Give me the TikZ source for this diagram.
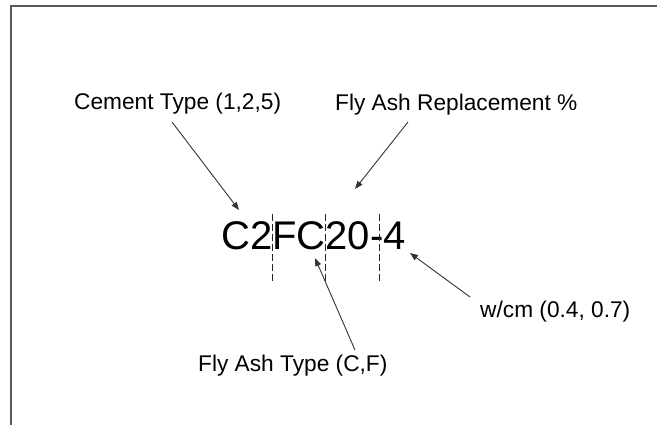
\documentclass[tikz,border=0pt]{standalone}
\usepackage{fontspec}
\setmainfont{Liberation Sans}
\usetikzlibrary{arrows.meta}
\tikzset{
  lbl/.style={inner sep=0pt, anchor=base west, font=\fontsize{22.7}{26}\selectfont},
  big/.style={inner sep=0pt, anchor=base west, font=\fontsize{40}{46}\selectfont},
  pointer/.style={draw=black!80, line width=0.9pt, -{Triangle[length=8pt,width=6pt]}},
  divider/.style={draw=black!85, line width=0.9pt, dash pattern=on 7pt off 3pt},
  frame/.style={draw=black!65, line width=2pt}
}
\begin{document}
\begin{tikzpicture}[x=1pt,y=-1pt]
\useasboundingbox (0,0) rectangle (657,425);
\draw[frame] (11,425) -- (11,6) -- (657,6);
% labels
\node[lbl] (cem) at (74,110) {Cement Type (1,2,5)};
\node[lbl] (far) at (335,111) {Fly Ash Replacement \%};
\node[lbl] (fat) at (198,371) {Fly Ash Type (C,F)};
\node[lbl] (wcm) at (480,317) {w/cm (0.4, 0.7)};
\node[big] (code) at (221,250) {C2FC20-4};
% dividers
\coordinate (d1t) at (272,214); \coordinate (d1b) at (272,283);
\coordinate (d2t) at (325,214); \coordinate (d2b) at (325,283);
\coordinate (d3t) at (379,214); \coordinate (d3b) at (379,283);
\draw[divider] (d1t) -- (d1b);
\draw[divider] (d2t) -- (d2b);
\draw[divider] (d3t) -- (d3b);
% arrows
\coordinate (cemS) at (172,122); \coordinate (cemT) at (239,210);
\coordinate (farS) at (408,122); \coordinate (farT) at (355,189);
\coordinate (fatS) at (355,350); \coordinate (fatT) at (315,258);
\coordinate (wcmS) at (470,297); \coordinate (wcmT) at (410,253);
\draw[pointer] (cemS) -- (cemT);
\draw[pointer] (farS) -- (farT);
\draw[pointer] (fatS) -- (fatT);
\draw[pointer] (wcmS) -- (wcmT);
\end{tikzpicture}
\end{document}
